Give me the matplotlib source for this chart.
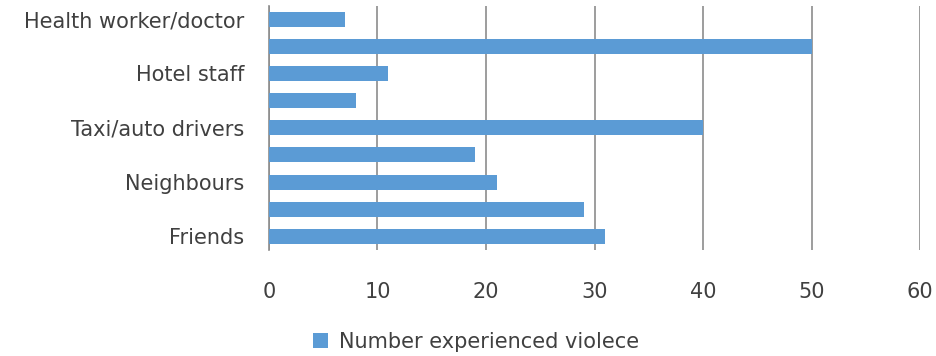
import matplotlib
matplotlib.use("Agg")
import matplotlib.pyplot as plt

categories = ["Health worker/doctor", "", "Hotel staff", "", "Taxi/auto drivers",
              "", "Neighbours", "", "Friends"]
values = [7, 50, 11, 8, 40, 19, 21, 29, 31]
series_name = "Number experienced violece"
xticks = [0, 10, 20, 30, 40, 50, 60]

plt.rcParams['font.family'] = ['DejaVu Sans']
text_color = "#404040"
bar_color = "#5B9BD5"
grid_color = "#8C8C8C"
fs = 15

fig = plt.figure(figsize=(9.37, 3.56), dpi=100)
ax = fig.add_axes([269/937, 1 - 250/356, (920-269)/937, (250-5.5)/356])

ypos = list(range(len(categories)))[::-1]
ax.barh(ypos, values, height=0.55, color=bar_color, label=series_name, zorder=3)
ax.set_ylim(-0.5, len(categories) - 0.5)
ax.set_xlim(0, 60)
ax.set_xticks(xticks)
ax.set_xticklabels([str(t) for t in xticks], fontsize=fs, color=text_color)
ax.set_yticks(ypos)
ax.set_yticklabels(categories, fontsize=fs, color=text_color)
ax.tick_params(axis='y', length=0, pad=18)
ax.tick_params(axis='x', length=0, pad=23)
ax.grid(axis='x', color=grid_color, linewidth=1.2, zorder=0)
for s in ['top', 'right', 'bottom']:
    ax.spines[s].set_visible(False)
ax.spines['left'].set_color(grid_color)
ax.spines['left'].set_linewidth(1.2)

fig.legend(loc='center', bbox_to_anchor=(476/937, 1 - 342/356), frameon=False,
           fontsize=fs, handlelength=0.7, handleheight=0.7, handletextpad=0.55,
           labelcolor=text_color)

fig.savefig("out.png", dpi=100)
